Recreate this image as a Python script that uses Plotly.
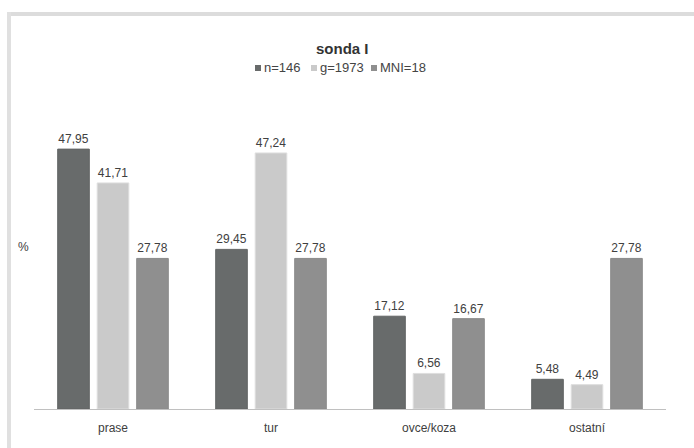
import plotly.graph_objects as go

categories = ["prase", "tur", "ovce/koza", "ostatní"]
series_names = ["n=146", "g=1973", "MNI=18"]
n_vals = [47.95, 29.45, 17.12, 5.48]
g_vals = [41.71, 47.24, 6.56, 4.49]
mni_vals = [27.78, 27.78, 16.67, 27.78]

colors = ["#686b6b", "#cacaca", "#8f8f8f"]
line_colors = ["#626565", "#dedede", "#8a8a8a"]

W, H = 694, 448
ML, MR, MT, MB = 34, 28, 139, 39
pw = W - ML - MR
ph = H - MT - MB


def px(x):
    return (x - ML) / pw


def py(y):
    return (H - MB - y) / ph


def fmt(v):
    return f"{v:.2f}".replace(".", ",")


FONT = "Liberation Sans, Arial, sans-serif"

fig = go.Figure()
for name, vals, c, lc in zip(series_names, [n_vals, g_vals, mni_vals], colors, line_colors):
    fig.add_trace(go.Bar(
        x=categories, y=vals, name=name,
        marker=dict(color=c, line=dict(color=lc, width=1)),
        text=[fmt(v) for v in vals], textposition="outside",
        textfont=dict(family=FONT, size=12, color="#404040"),
        cliponaxis=False, showlegend=False,
    ))

fig.update_layout(
    width=W, height=H,
    paper_bgcolor="white", plot_bgcolor="white",
    margin=dict(l=ML, r=MR, t=MT, b=MB),
    barmode="group", bargap=0.25, bargroupgap=0.2,
    font=dict(family=FONT, size=12, color="#404040"),
    showlegend=False,
    xaxis=dict(showline=True, linecolor="#c0c0c0", linewidth=1, ticks="",
               ticklabelstandoff=8,
               tickfont=dict(size=12, color="#404040")),
    yaxis=dict(range=[0, 270 / 5.42], visible=False),
)

# title
fig.add_annotation(text="<b>sonda I</b>", x=px(342), y=py(48), xref="paper", yref="paper",
                   xanchor="center", yanchor="middle", showarrow=False,
                   font=dict(size=15, color="#333333", family=FONT))
# "%" axis label
fig.add_annotation(text="%", x=px(23), y=py(247), xref="paper", yref="paper",
                   xanchor="center", yanchor="middle", showarrow=False,
                   font=dict(size=12, color="#404040", family=FONT))

# legend (manual, compact like the original)
legend_sq_x = [255, 311, 371]
for name, c, sx in zip(series_names, colors, legend_sq_x):
    fig.add_shape(type="rect", xref="paper", yref="paper",
                  x0=px(sx), x1=px(sx + 6), y0=py(65), y1=py(71),
                  fillcolor=c, line=dict(width=0))
    fig.add_annotation(text=name, x=px(sx + 7), y=py(68), xref="paper", yref="paper",
                       xanchor="left", yanchor="middle", showarrow=False,
                       font=dict(size=13, color="#444444", family=FONT))

# light frame at top and left
fig.add_shape(type="line", xref="paper", yref="paper", x0=px(7), x1=px(694), y0=py(14), y1=py(14),
              line=dict(color="#dcdcdc", width=4))
fig.add_shape(type="line", xref="paper", yref="paper", x0=px(9), x1=px(9), y0=py(12), y1=py(448),
              line=dict(color="#e0e0e0", width=4))

fig.write_html("out.html", config={"displayModeBar": False},
               post_script="document.body.style.margin='0';document.body.style.overflow='hidden';")
